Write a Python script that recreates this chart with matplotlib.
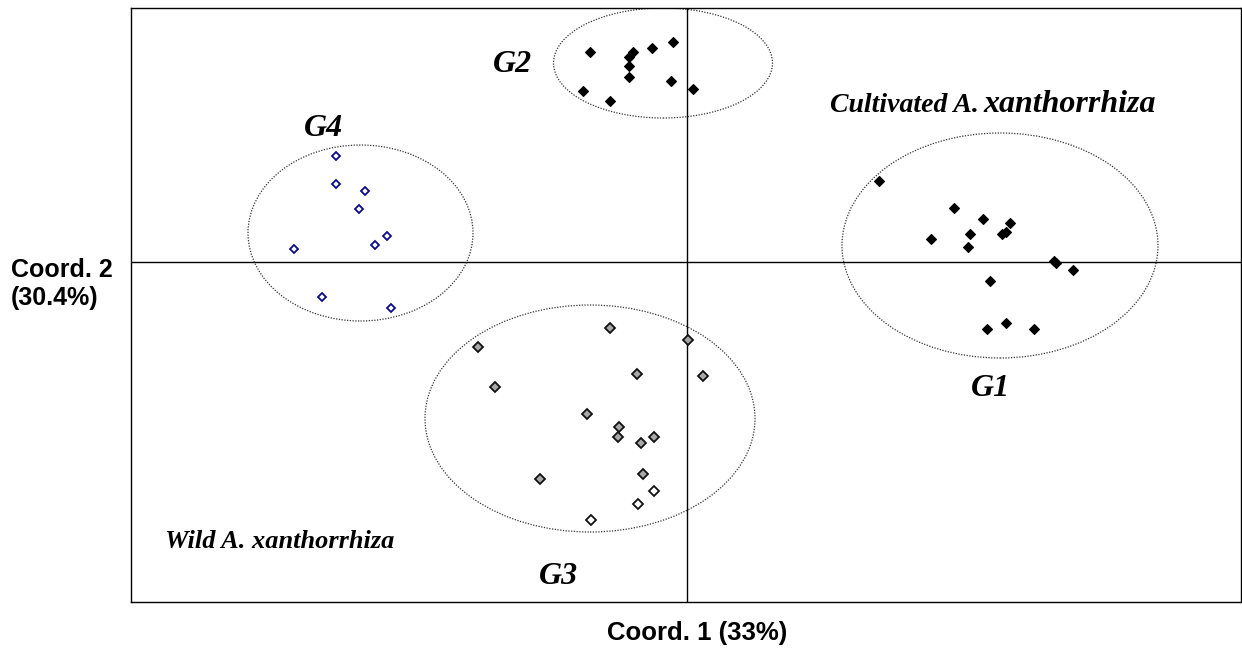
import matplotlib.pyplot as plt
from matplotlib.patches import Ellipse

# PCoA coordinates
g1_x = [1.92, 2.67, 2.96, 3.23, 2.83, 2.44, 3.15, 3.19, 2.81, 3.67, 3.69, 3.86, 3.03, 3.19, 3.00, 3.47]
g1_y = [0.81, 0.54, 0.43, 0.39, 0.28, 0.23, 0.28, 0.30, 0.15, 0.01, -0.01, -0.08, -0.19, -0.61, -0.67, -0.67]

g2_x = [-0.97, -0.54, -0.58, -0.58, -0.58, -0.35, -0.14, -0.16, 0.06, -1.04, -0.77]
g2_y = [2.10, 2.10, 2.05, 1.96, 1.85, 2.14, 2.20, 1.81, 1.73, 1.71, 1.61]

g3_x = [-0.77, -2.09, 0.01, -0.50, 0.16, -1.92, -1.00, -0.68, -0.69, -0.33, -0.46, -0.44, -1.47]
g3_y = [-0.66, -0.85, -0.78, -1.12, -1.14, -1.25, -1.52, -1.65, -1.75, -1.75, -1.81, -2.12, -2.17]
g3w_x = [-0.33, -0.49, -0.96]
g3w_y = [-2.29, -2.42, -2.58]

g4_x = [-3.51, -3.51, -3.22, -3.28, -3.00, -3.12, -3.93, -3.65, -2.96]
g4_y = [1.06, 0.78, 0.71, 0.53, 0.26, 0.17, 0.13, -0.35, -0.46]

# group ellipses: (cx, cy, width, height)
groups = {
    "G1": (3.13, 0.165, 3.16, 2.25),
    "G2": (-0.24, 1.99, 2.19, 1.10),
    "G3": (-0.97, -1.565, 3.30, 2.27),
    "G4": (-3.265, 0.29, 2.25, 1.76),
}
label_pos = {"G1": (3.03, -1.27), "G2": (-1.75, 1.97), "G3": (-1.29, -3.14), "G4": (-3.64, 1.34)}

W, H = 1242, 648
fig = plt.figure(figsize=(W / 100, H / 100), dpi=100)
ax = fig.add_axes([131 / W, 1 - 602 / H, 1110 / W, 594 / H])

ax.axhline(0, color="black", lw=1.0, zorder=1)
ax.axvline(0, color="black", lw=1.0, zorder=1)

for name, (cx, cy, w, h) in groups.items():
    ax.add_patch(Ellipse((cx, cy), w, h, fill=False, edgecolor="#333333",
                         lw=0.9, linestyle=(0, (1, 1.2)), zorder=2))

mk = dict(marker="D", linestyle="none", zorder=3)
ax.plot(g1_x, g1_y, ms=5.6, mfc="black", mec="black", mew=0.8, **mk)
ax.plot(g2_x, g2_y, ms=5.6, mfc="black", mec="black", mew=0.8, **mk)
ax.plot(g3_x, g3_y, ms=4.8, mfc="#a8a8a8", mec="#111111", mew=1.3, **mk)
ax.plot(g3w_x, g3w_y, ms=4.8, mfc="white", mec="#111111", mew=1.3, **mk)
ax.plot(g4_x, g4_y, ms=4.5, mfc="white", mec="#0a0a8c", mew=1.3, **mk)

serif = dict(family="Liberation Serif", weight="bold", style="italic")
for name, (lx, ly) in label_pos.items():
    ax.text(lx, ly, name, fontsize=23, ha="center", va="center", **serif)

ax.text(1.43, 1.57, "Cultivated A.", fontsize=20, ha="left", va="center", **serif)
ax.text(2.96, 1.575, "xanthorrhiza", fontsize=23, ha="left", va="center", **serif)
ax.text(-5.22, -2.79, "Wild A. xanthorrhiza", fontsize=19, ha="left", va="center", **serif)

ax.set_xlim(-5.56, 5.54)
ax.set_ylim(-3.40, 2.54)
ax.set_xticks([])
ax.set_yticks([])
for sp in ax.spines.values():
    sp.set_linewidth(1.0)

sans = dict(family="Liberation Sans", weight="bold")
fig.text(697 / W, 1 - 633 / H, "Coord. 1 (33%)", fontsize=18.5, ha="center", va="center", **sans)
fig.text(11 / W, 1 - 284 / H, "Coord. 2\n(30.4%)", fontsize=18, ha="left", va="center",
         multialignment="left", linespacing=1.2, **sans)

fig.savefig("out.png", dpi=100)
